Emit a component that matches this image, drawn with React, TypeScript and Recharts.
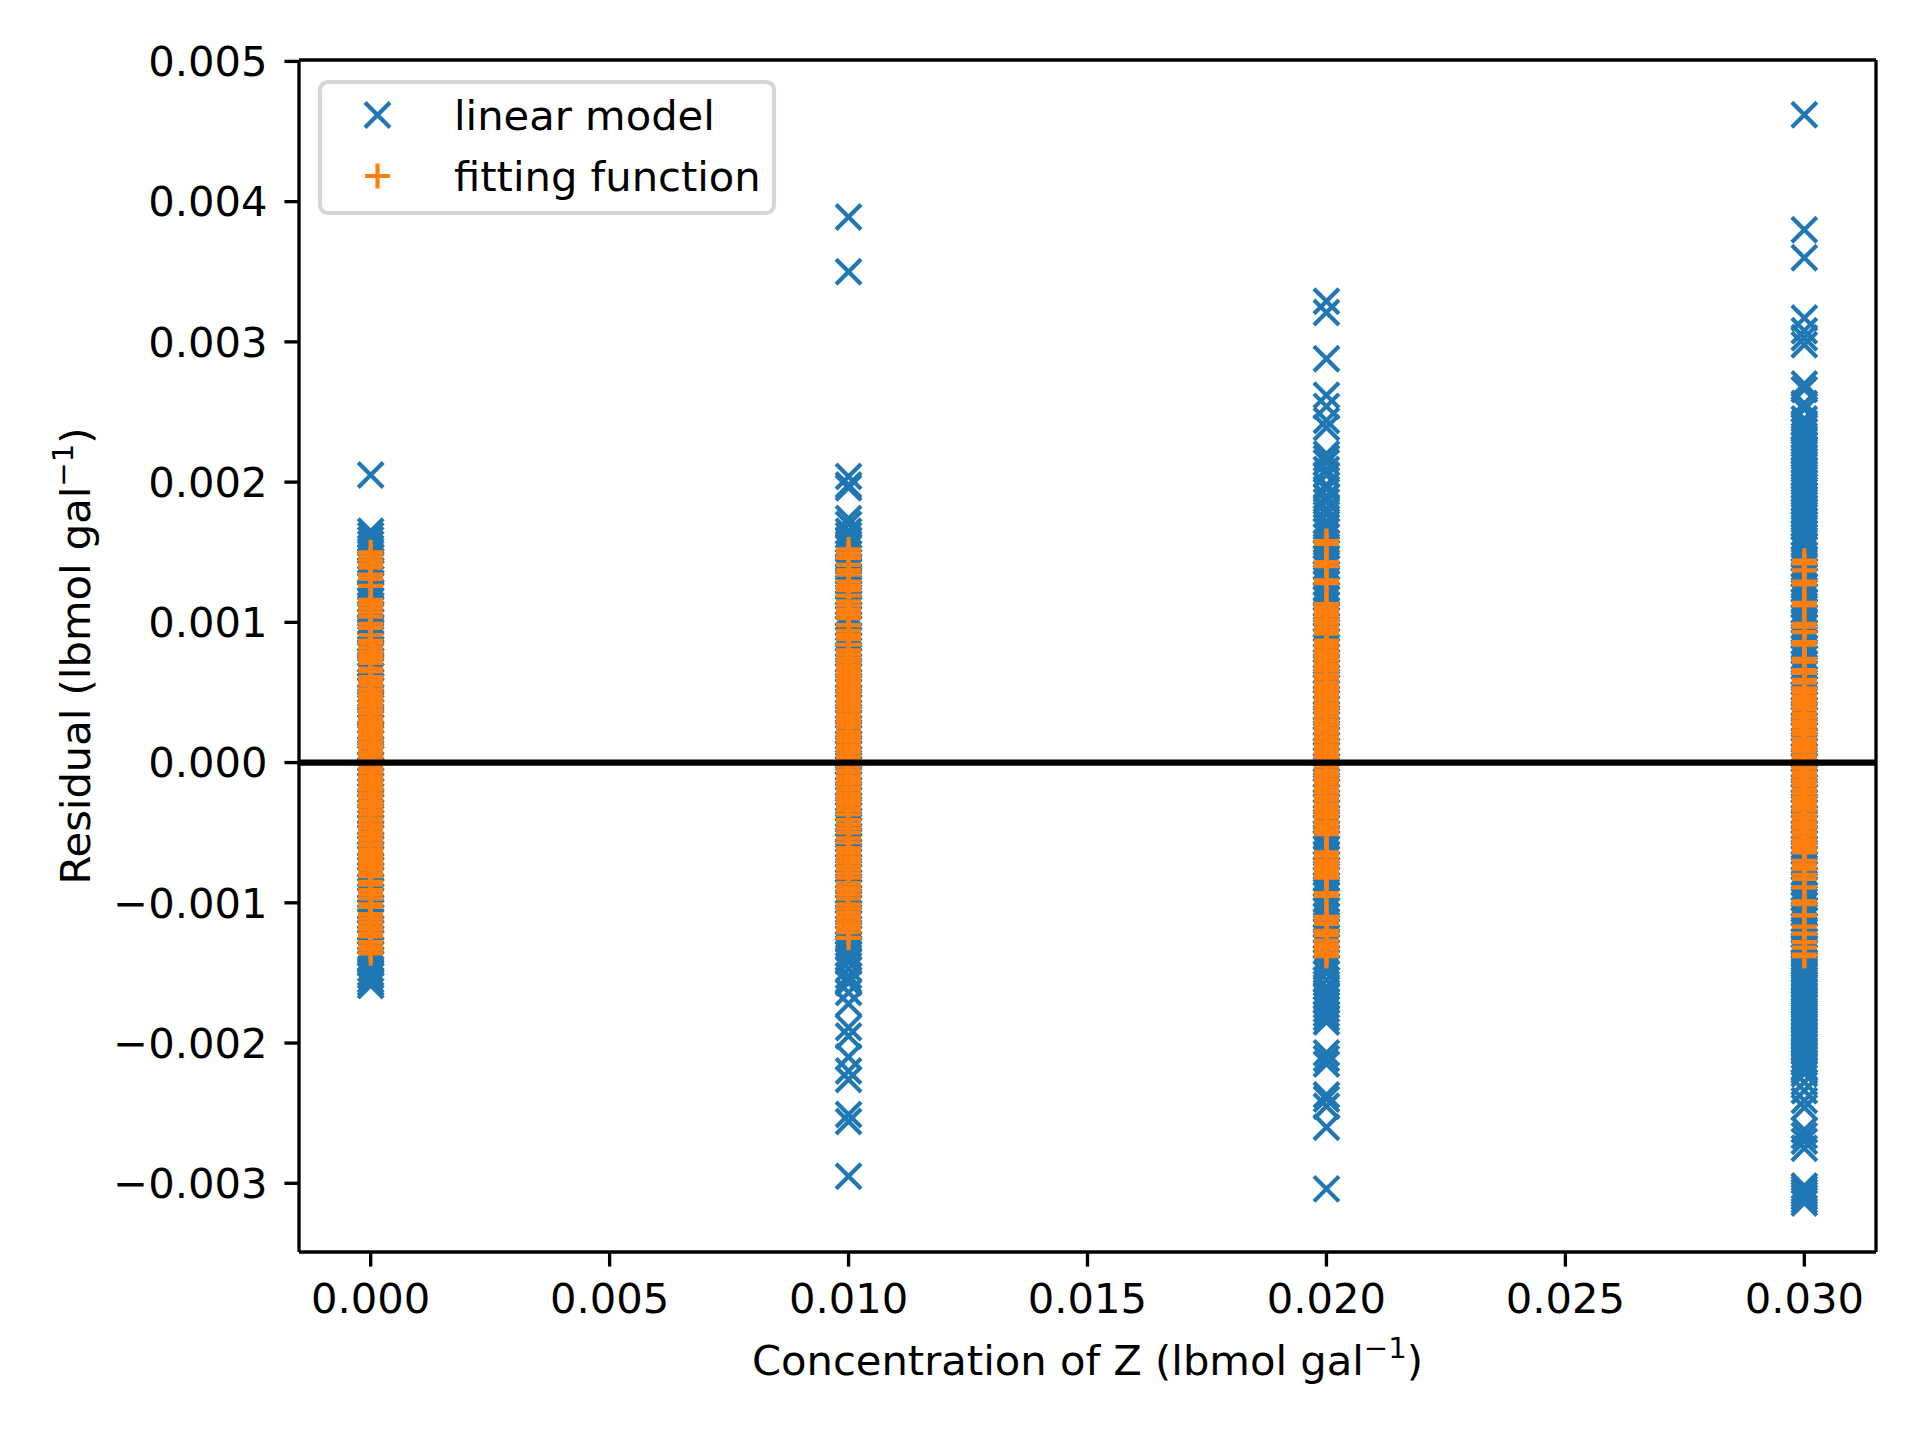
import React from 'react';
import {
  ScatterChart,
  Scatter,
  XAxis,
  YAxis,
  ReferenceLine,
  Legend,
  Label,
} from 'recharts';

// Concentration of Z for each column of residuals (lbmol gal^-1)
const concentrations = [0, 0.01, 0.02, 0.03];

// Residuals, in units of 10^-3 lbmol gal^-1 — linear model
const linear0 = [2.05, 1.65, 1.62, 1.59, 1.56, 1.53, 1.51, 1.47, 1.44, 1.42, 1.37, 1.35, 1.31, 1.28, 1.26, 1.22, 1.2, 1.16, 1.12, 1.09, 1.06, 1.01, 0.97, 0.95, 0.92, 0.88, 0.84, 0.81, 0.78, 0.73, 0.7, 0.67, 0.62, 0.58, 0.55, 0.52, 0.47, 0.44, 0.41, 0.36, 0.33, 0.3, 0.25, 0.21, 0.19, 0.14, 0.1, 0.07, 0.03, -0.01, -0.05, -0.08, -0.13, -0.16, -0.2, -0.24, -0.27, -0.31, -0.35, -0.38, -0.43, -0.46, -0.5, -0.53, -0.58, -0.61, -0.65, -0.68, -0.73, -0.76, -0.8, -0.83, -0.88, -0.91, -0.95, -0.98, -1.03, -1.06, -1.1, -1.13, -1.18, -1.21, -1.25, -1.28, -1.33, -1.36, -1.4, -1.43, -1.47, -1.5, -1.52, -1.55, -1.57, -1.59];
const linear1 = [3.89, 3.5, 2.04, 1.98, 1.96, 1.74, 1.7, 1.65, 1.62, 1.59, 1.56, 1.53, 1.49, 1.46, 1.43, 1.39, 1.36, 1.32, 1.29, 1.25, 1.21, 1.18, 1.14, 1.11, 1.06, 1.03, 0.99, 0.96, 0.91, 0.88, 0.84, 0.8, 0.77, 0.73, 0.69, 0.66, 0.62, 0.58, 0.55, 0.51, 0.47, 0.44, 0.4, 0.36, 0.33, 0.29, 0.25, 0.22, 0.18, 0.14, 0.11, 0.07, 0.03, 0.0, -0.04, -0.08, -0.11, -0.15, -0.19, -0.22, -0.26, -0.3, -0.33, -0.37, -0.41, -0.44, -0.48, -0.52, -0.55, -0.59, -0.63, -0.66, -0.7, -0.74, -0.77, -0.81, -0.85, -0.88, -0.92, -0.96, -0.99, -1.03, -1.07, -1.1, -1.14, -1.18, -1.21, -1.25, -1.29, -1.32, -1.36, -1.39, -1.42, -1.47, -1.52, -1.55, -1.57, -1.64, -1.72, -1.89, -1.95, -2.1, -2.2, -2.26, -2.51, -2.56, -2.95];
const linear2 = [3.29, 3.21, 2.88, 2.62, 2.54, 2.44, 2.39, 2.2, 2.17, 2.14, 2.09, 2.05, 1.98, 1.95, 1.9, 1.86, 1.81, 1.77, 1.72, 1.68, 1.65, 1.61, 1.57, 1.54, 1.5, 1.46, 1.43, 1.39, 1.35, 1.32, 1.28, 1.24, 1.2, 1.17, 1.13, 1.09, 1.06, 1.02, 0.98, 0.95, 0.91, 0.87, 0.83, 0.8, 0.76, 0.72, 0.69, 0.65, 0.61, 0.58, 0.54, 0.5, 0.46, 0.43, 0.39, 0.35, 0.32, 0.28, 0.24, 0.21, 0.17, 0.13, 0.09, 0.06, 0.02, -0.02, -0.05, -0.09, -0.13, -0.16, -0.2, -0.24, -0.28, -0.31, -0.35, -0.39, -0.42, -0.46, -0.5, -0.53, -0.57, -0.61, -0.65, -0.68, -0.72, -0.76, -0.79, -0.83, -0.87, -0.9, -0.94, -0.98, -1.02, -1.05, -1.09, -1.13, -1.16, -1.2, -1.24, -1.27, -1.31, -1.35, -1.39, -1.42, -1.46, -1.5, -1.55, -1.6, -1.64, -1.67, -1.7, -1.73, -1.76, -1.79, -1.82, -1.85, -2.07, -2.11, -2.15, -2.37, -2.4, -2.45, -2.6, -3.04];
const linear3 = [4.62, 3.8, 3.6, 3.17, 3.08, 3.03, 2.98, 2.7, 2.66, 2.56, 2.52, 2.45, 2.42, 2.39, 2.36, 2.33, 2.31, 2.27, 2.24, 2.22, 2.18, 2.15, 2.13, 2.09, 2.06, 2.04, 2.0, 1.97, 1.95, 1.91, 1.88, 1.86, 1.82, 1.79, 1.77, 1.73, 1.7, 1.68, 1.64, 1.61, 1.59, 1.55, 1.52, 1.48, 1.45, 1.41, 1.37, 1.34, 1.3, 1.26, 1.23, 1.19, 1.15, 1.12, 1.08, 1.04, 1.01, 0.97, 0.93, 0.9, 0.86, 0.82, 0.79, 0.75, 0.71, 0.68, 0.64, 0.6, 0.57, 0.53, 0.49, 0.46, 0.42, 0.38, 0.35, 0.31, 0.27, 0.24, 0.2, 0.16, 0.13, 0.09, 0.05, 0.02, -0.02, -0.06, -0.09, -0.13, -0.17, -0.2, -0.24, -0.28, -0.31, -0.35, -0.39, -0.42, -0.46, -0.5, -0.53, -0.57, -0.61, -0.64, -0.68, -0.72, -0.75, -0.79, -0.83, -0.86, -0.9, -0.94, -0.97, -1.01, -1.05, -1.08, -1.12, -1.16, -1.19, -1.23, -1.27, -1.3, -1.33, -1.36, -1.39, -1.42, -1.44, -1.47, -1.5, -1.53, -1.56, -1.58, -1.61, -1.64, -1.67, -1.7, -1.72, -1.75, -1.78, -1.81, -1.84, -1.86, -1.89, -1.92, -1.95, -1.98, -2.0, -2.03, -2.06, -2.09, -2.12, -2.14, -2.17, -2.2, -2.22, -2.28, -2.34, -2.41, -2.46, -2.62, -2.66, -2.7, -2.75, -3.02, -3.04, -3.06, -3.08, -3.1, -3.12, -3.14];

// Residuals, in units of 10^-3 lbmol gal^-1 — fitting function
const fitting0 = [1.5, 1.47, 1.44, 1.41, 1.39, 1.34, 1.31, 1.26, 1.16, 1.13, 1.1, 1.07, 1.04, 0.99, 0.96, 0.91, 0.87, 0.85, 0.82, 0.79, 0.76, 0.74, 0.71, 0.67, 0.65, 0.61, 0.59, 0.57, 0.55, 0.52, 0.49, 0.47, 0.45, 0.43, 0.41, 0.38, 0.36, 0.35, 0.32, 0.3, 0.29, 0.26, 0.24, 0.22, 0.2, 0.18, 0.17, 0.14, 0.12, 0.11, 0.08, 0.06, 0.05, 0.02, 0.0, -0.01, -0.04, -0.06, -0.07, -0.1, -0.12, -0.13, -0.16, -0.18, -0.19, -0.22, -0.23, -0.25, -0.28, -0.3, -0.31, -0.34, -0.35, -0.37, -0.4, -0.41, -0.44, -0.45, -0.47, -0.5, -0.51, -0.54, -0.55, -0.58, -0.59, -0.62, -0.63, -0.66, -0.68, -0.7, -0.72, -0.74, -0.76, -0.79, -0.81, -0.85, -0.87, -0.91, -0.94, -0.97, -1.01, -1.03, -1.08, -1.11, -1.14, -1.17, -1.19, -1.22, -1.24, -1.28, -1.31, -1.33, -1.36];
const fitting1 = [1.52, 1.49, 1.46, 1.41, 1.37, 1.34, 1.29, 1.26, 1.23, 1.19, 1.15, 1.12, 1.09, 1.06, 1.03, 0.98, 0.94, 0.91, 0.88, 0.84, 0.8, 0.77, 0.74, 0.72, 0.69, 0.66, 0.64, 0.62, 0.6, 0.58, 0.56, 0.54, 0.52, 0.5, 0.48, 0.46, 0.44, 0.42, 0.4, 0.38, 0.37, 0.34, 0.32, 0.3, 0.28, 0.26, 0.25, 0.22, 0.21, 0.19, 0.17, 0.15, 0.12, 0.11, 0.09, 0.07, 0.04, 0.03, 0.01, -0.02, -0.03, -0.06, -0.07, -0.1, -0.12, -0.14, -0.15, -0.18, -0.19, -0.22, -0.24, -0.26, -0.28, -0.3, -0.33, -0.34, -0.37, -0.41, -0.44, -0.47, -0.5, -0.54, -0.57, -0.61, -0.63, -0.65, -0.68, -0.71, -0.74, -0.76, -0.79, -0.82, -0.86, -0.89, -0.91, -0.94, -0.97, -1.01, -1.04, -1.07, -1.1, -1.12, -1.15, -1.18, -1.21, -1.25];
const fitting2 = [1.58, 1.56, 1.43, 1.4, 1.3, 1.28, 1.13, 1.11, 1.08, 1.06, 1.05, 1.02, 1.0, 0.99, 0.96, 0.94, 0.92, 0.87, 0.86, 0.83, 0.8, 0.79, 0.76, 0.74, 0.73, 0.7, 0.69, 0.66, 0.63, 0.61, 0.6, 0.57, 0.55, 0.54, 0.51, 0.49, 0.47, 0.45, 0.42, 0.41, 0.39, 0.36, 0.35, 0.33, 0.3, 0.29, 0.27, 0.24, 0.23, 0.21, 0.18, 0.17, 0.15, 0.12, 0.11, 0.09, 0.06, 0.05, 0.03, 0.0, -0.01, -0.03, -0.06, -0.07, -0.09, -0.12, -0.13, -0.15, -0.18, -0.19, -0.21, -0.24, -0.25, -0.27, -0.3, -0.31, -0.33, -0.36, -0.37, -0.39, -0.42, -0.43, -0.45, -0.48, -0.49, -0.51, -0.64, -0.66, -0.67, -0.7, -0.72, -0.73, -0.76, -0.78, -0.8, -0.82, -0.93, -0.95, -1.1, -1.12, -1.15, -1.2, -1.23, -1.27, -1.3, -1.33, -1.36, -1.38];
const fitting3 = [1.44, 1.42, 1.37, 1.29, 1.27, 1.14, 1.12, 0.99, 0.97, 0.93, 0.86, 0.84, 0.74, 0.72, 0.66, 0.64, 0.59, 0.57, 0.53, 0.51, 0.5, 0.47, 0.45, 0.44, 0.41, 0.39, 0.38, 0.35, 0.33, 0.32, 0.29, 0.27, 0.26, 0.23, 0.21, 0.2, 0.17, 0.15, 0.14, 0.11, 0.09, 0.08, 0.05, 0.03, 0.02, -0.01, -0.03, -0.04, -0.07, -0.09, -0.1, -0.13, -0.15, -0.16, -0.19, -0.21, -0.22, -0.25, -0.27, -0.28, -0.31, -0.33, -0.34, -0.37, -0.39, -0.4, -0.43, -0.45, -0.46, -0.49, -0.51, -0.52, -0.55, -0.57, -0.58, -0.61, -0.63, -0.64, -0.7, -0.73, -0.76, -0.8, -0.83, -0.89, -0.99, -1.01, -1.09, -1.17, -1.22, -1.28, -1.32, -1.37, -1.38];

const xTicks = [0, 0.005, 0.01, 0.015, 0.02, 0.025, 0.03];
const yTicks = [-0.003, -0.002, -0.001, 0, 0.001, 0.002, 0.003, 0.004, 0.005];
const xDomain = [-0.0015, 0.0315];
const yDomain = [-0.00349, 0.00501];

const linearCols = [linear0, linear1, linear2, linear3];
const fittingCols = [fitting0, fitting1, fitting2, fitting3];

const toPoints = (cols: number[][]) =>
  cols.flatMap((col, i) => col.map((v) => ({ x: concentrations[i], y: v / 1000 })));

const linearData = toPoints(linearCols);
const fittingData = toPoints(fittingCols);

const PT = 300 / 72;
const FONT = '"DejaVu Sans", sans-serif';
const FS = 10 * PT;
const BLUE = '#1f77b4';
const ORANGE = '#ff7f0e';
const HALF = 3 * PT; // marker half-size (6pt markers)
const MEW = 1 * PT;

const XMark = (props: any) => {
  const { cx, cy } = props;
  if (cx == null || cy == null) return null;
  return (
    <path
      d={`M${cx - HALF},${cy - HALF}L${cx + HALF},${cy + HALF}M${cx - HALF},${cy + HALF}L${cx + HALF},${cy - HALF}`}
      stroke={BLUE}
      strokeWidth={MEW}
      fill="none"
    />
  );
};

const PlusMark = (props: any) => {
  const { cx, cy } = props;
  if (cx == null || cy == null) return null;
  return (
    <path
      d={`M${cx - HALF},${cy}L${cx + HALF},${cy}M${cx},${cy - HALF}L${cx},${cy + HALF}`}
      stroke={ORANGE}
      strokeWidth={MEW}
      fill="none"
    />
  );
};

const fmt = (v: number) => {
  const s = Math.abs(v).toFixed(3);
  return v < -1e-12 ? '\u2212' + s : s;
};

const YLabel = (props: any) => {
  const vb = props.viewBox || { x: 0, y: 60, width: 299, height: 1192 };
  const x = 90;
  const y = vb.y + vb.height / 2;
  return (
    <text
      x={x}
      y={y}
      transform={`rotate(-90 ${x} ${y})`}
      textAnchor="middle"
      fontFamily={FONT}
      fontSize={FS}
      fill="#000"
    >
      Residual (lbmol gal
      <tspan dy={-17} fontSize={FS * 0.7}>
        {'\u22121'}
      </tspan>
      <tspan dy={17}>)</tspan>
    </text>
  );
};

const XLabel = (props: any) => {
  const vb = props.viewBox || { x: 299, y: 1252, width: 1577, height: 188 };
  const x = vb.x + vb.width / 2;
  const y = 1375;
  return (
    <text x={x} y={y} textAnchor="middle" fontFamily={FONT} fontSize={FS} fill="#000">
      Concentration of Z (lbmol gal
      <tspan dy={-17} fontSize={FS * 0.7}>
        {'\u22121'}
      </tspan>
      <tspan dy={17}>)</tspan>
    </text>
  );
};

const legendItems = [
  { label: 'linear model', kind: 'x' },
  { label: 'fitting function', kind: 'plus' },
];

const LegendBox = () => {
  const w = 458;
  const h = 135;
  return (
    <svg width={w} height={h} style={{ display: 'block', overflow: 'visible' }}>
      <rect
        x={2}
        y={2}
        width={w - 4}
        height={h - 4}
        rx={8}
        ry={8}
        fill="#ffffff"
        fillOpacity={0.8}
        stroke="#cccccc"
        strokeOpacity={0.8}
        strokeWidth={MEW}
      />
      {legendItems.map((it, i) => {
        const cy = 35 + i * 61;
        const cx = 59.5;
        return (
          <g key={it.label}>
            {it.kind === 'x' ? <XMark cx={cx} cy={cy} /> : <PlusMark cx={cx} cy={cy} />}
            <text x={136} y={cy + 14.5} fontFamily={FONT} fontSize={FS} fill="#000">
              {it.label}
            </text>
          </g>
        );
      })}
    </svg>
  );
};

export default function App() {
  return (
    <div style={{ position: 'absolute', left: 0, top: 0, width: 1920, height: 1440, background: '#fff' }}>
      <ScatterChart width={1920} height={1440} margin={{ top: 60, right: 44, bottom: 0, left: 0 }}>
        <XAxis
          type="number"
          dataKey="x"
          domain={xDomain}
          ticks={xTicks}
          allowDataOverflow
          height={188}
          tickFormatter={fmt}
          tickSize={3.5 * PT}
          tickMargin={17}
          axisLine={{ stroke: '#000', strokeWidth: 0.8 * PT }}
          tickLine={{ stroke: '#000', strokeWidth: 0.8 * PT }}
          tick={{ fill: '#000', fontSize: FS, fontFamily: FONT }}
        >
          <Label content={<XLabel />} />
        </XAxis>
        <YAxis
          type="number"
          dataKey="y"
          domain={yDomain}
          ticks={yTicks}
          allowDataOverflow
          width={299}
          tickFormatter={fmt}
          tickSize={3.5 * PT}
          tickMargin={17}
          axisLine={{ stroke: '#000', strokeWidth: 0.8 * PT }}
          tickLine={{ stroke: '#000', strokeWidth: 0.8 * PT }}
          tick={{ fill: '#000', fontSize: FS, fontFamily: FONT }}
        >
          <Label content={<YLabel />} />
        </YAxis>
        <Scatter name="linear model" data={linearData} shape={<XMark />} isAnimationActive={false} />
        <Scatter name="fitting function" data={fittingData} shape={<PlusMark />} isAnimationActive={false} />
        <ReferenceLine y={0} stroke="#000" strokeWidth={1.5 * PT} zIndex={1000} />
        <ReferenceLine y={yDomain[1]} stroke="#000" strokeWidth={0.8 * PT} zIndex={1000} />
        <ReferenceLine x={xDomain[1]} stroke="#000" strokeWidth={0.8 * PT} zIndex={1000} />
        <Legend
          layout="vertical"
          align="center"
          verticalAlign="middle"
          content={<LegendBox />}
          wrapperStyle={{ position: 'absolute', left: 318, top: 80, width: 458, height: 135 }}
        />
      </ScatterChart>
    </div>
  );
}
